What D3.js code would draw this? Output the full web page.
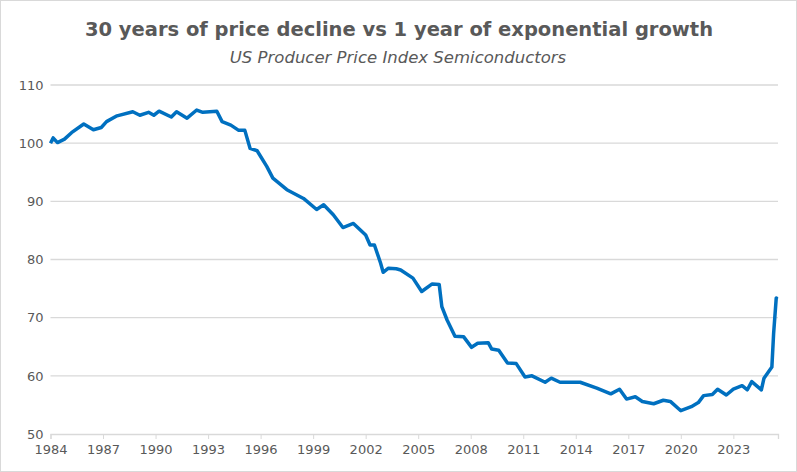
<!DOCTYPE html>
<html><head><meta charset="utf-8">
<script src="https://cdn.jsdelivr.net/npm/d3@7"></script>
<style>
body{margin:0;background:#fff;}
svg{font-family:"DejaVu Sans",sans-serif;}
</style></head>
<body><svg id="chart" width="797" height="472"></svg>
<script>
// decimal year and index value
const years = [1984.0,1984.15,1984.4,1984.8,1985.2,1985.9,1986.45,1986.9,1987.2,1987.8,1988.7,1989.1,1989.6,1989.9,1990.2,1990.9,1991.2,1991.8,1992.35,1992.7,1993.5,1993.8,1994.3,1994.75,1995.1,1995.4,1995.8,1996.35,1996.7,1997.5,1998.45,1999.2,1999.6,2000.15,2000.7,2001.3,2002.0,2002.25,2002.5,2002.85,2003.0,2003.3,2003.75,2004.0,2004.7,2005.2,2005.8,2006.2,2006.35,2006.65,2007.1,2007.6,2008.05,2008.4,2009.0,2009.2,2009.6,2010.1,2010.6,2011.1,2011.5,2012.25,2012.6,2013.1,2014.25,2015.2,2016.0,2016.5,2016.9,2017.4,2017.8,2018.45,2019.0,2019.4,2020.0,2020.6,2021.0,2021.3,2021.8,2022.1,2022.6,2023.0,2023.5,2023.8,2024.05,2024.6,2024.75,2025.2,2025.3,2025.45,2025.5];
const values = [100.0,100.9,100.1,100.7,101.8,103.3,102.3,102.7,103.7,104.7,105.4,104.8,105.3,104.8,105.5,104.5,105.4,104.3,105.7,105.3,105.5,103.7,103.1,102.2,102.2,99.1,98.7,96.0,94.0,92.0,90.5,88.6,89.4,87.7,85.5,86.2,84.2,82.5,82.5,79.4,77.8,78.5,78.4,78.2,76.8,74.5,75.8,75.7,71.9,69.6,66.8,66.7,64.9,65.6,65.7,64.6,64.4,62.2,62.1,59.8,60.0,58.9,59.6,58.9,58.9,57.9,56.9,57.7,56.0,56.4,55.6,55.2,55.8,55.6,54.0,54.7,55.4,56.6,56.8,57.7,56.7,57.7,58.3,57.6,59.0,57.6,59.6,61.5,67.3,73.4,73.2];
const xTicks = d3.range(1984, 2024, 3);
const yTicks = [50, 60, 70, 80, 90, 100, 110];

const svg = d3.select("#chart");
svg.append("rect").attr("x",0.5).attr("y",0.5).attr("width",796).attr("height",471)
  .attr("fill","#fff").attr("stroke","#d9d9d9");

const x = d3.scaleLinear().domain([1984, 2025.55]).range([50.5, 778]);
const y = d3.scaleLinear().domain([50, 110]).range([434, 85]);

svg.append("text").attr("x",399).attr("y",36).attr("text-anchor","middle")
  .attr("font-size",19.5).attr("font-weight","bold").attr("fill","#595959")
  .text("30 years of price decline vs 1 year of exponential growth");
svg.append("text").attr("x",398).attr("y",63).attr("text-anchor","middle")
  .attr("font-size",16.5).attr("font-style","italic").attr("fill","#595959")
  .text("US Producer Price Index Semiconductors");

svg.append("g").selectAll("line").data(yTicks.slice(1)).join("line")
  .attr("x1",x.range()[0]).attr("x2",x.range()[1])
  .attr("y1",d=>y(d)).attr("y2",d=>y(d))
  .attr("stroke","#d9d9d9").attr("stroke-width",1.3);

const yAxis = svg.append("g").attr("transform",`translate(${x.range()[0]},0)`)
  .call(d3.axisLeft(y).tickValues(yTicks).tickSize(0).tickPadding(7));
yAxis.select(".domain").remove();

const xAxis = svg.append("g").attr("transform",`translate(0,${y(50)})`)
  .call(d3.axisBottom(x).tickValues(xTicks).tickFormat(d3.format("d")).tickSize(5).tickPadding(6));
xAxis.select(".domain").attr("stroke","#d9d9d9").attr("stroke-width",1.3);
xAxis.selectAll(".tick line").attr("stroke","#d9d9d9");

svg.selectAll(".tick text").attr("font-size",13).attr("fill","#595959")
  .attr("font-family","DejaVu Sans, sans-serif");

const data = years.map((t,i)=>({t, v: values[i]}));
svg.append("path").datum(data)
  .attr("fill","none").attr("stroke","#0070C0").attr("stroke-width",3.5)
  .attr("stroke-linejoin","round")
  .attr("d", d3.line().x(d=>x(d.t)).y(d=>y(d.v)));
</script></body></html>
